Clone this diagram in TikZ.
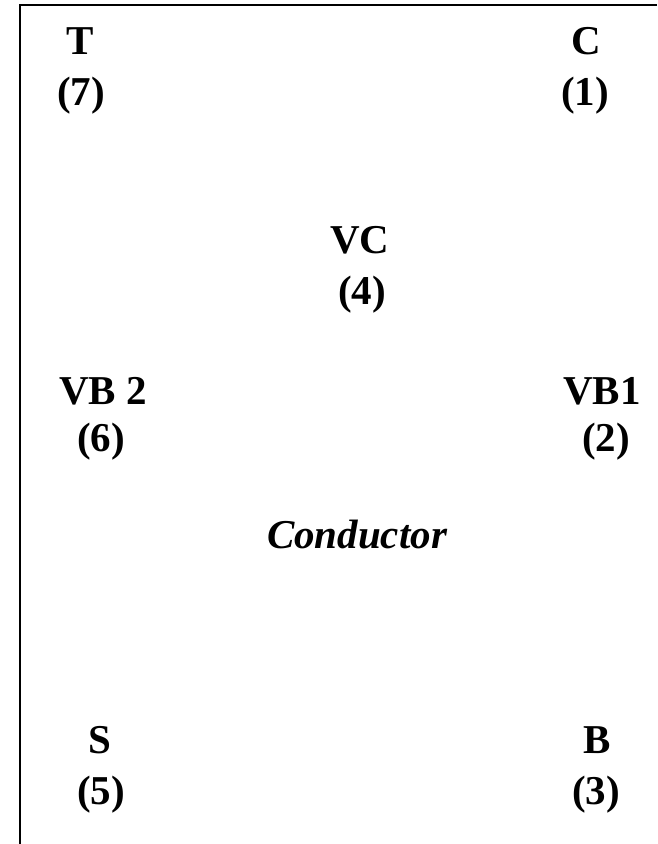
\documentclass[tikz,border=0pt]{standalone}
\usepackage{fontspec}
\setmainfont{Liberation Serif}
\usepackage{tikz}

\begin{document}
\begin{tikzpicture}
			[x=1pt,y=-1pt]
			\tikzstyle{every node}=[inner sep=0pt, font=\fontsize{41}{48}\selectfont\bfseries]
			\useasboundingbox (0,0) rectangle (657,844);
			\coordinate (tr) at (657,5);
			\coordinate (tl) at (20,5);
			\coordinate (bl) at (20,844);
			\draw[line width = 2] (tr) -- (tl) -- (bl);
			
			\node (T)  at (80,41) {T};
			\node (n7) at (81,95.5) {(7)};
			\node (C)  at (586,41) {C};
			\node (n1) at (585,95.5) {(1)};
			\node (VC) at (360,240) {VC};
			\node (n4) at (362,295) {(4)};
			\node (VB2) at (103,391) {VB 2};
			\node (n6) at (101,442) {(6)};
			\node (VB1) at (602,391) {VB1};
			\node (n2) at (606,442) {(2)};
			\node (cond) at (357,535) [font=\fontsize{41}{48}\selectfont\bfseries\itshape] {Conductor};
			\node (S)  at (100,740) {S};
			\node (n5) at (101,795) {(5)};
			\node (B)  at (597,740) {B};
			\node (n3) at (596,795) {(3)};
		\end{tikzpicture}
\end{document}
